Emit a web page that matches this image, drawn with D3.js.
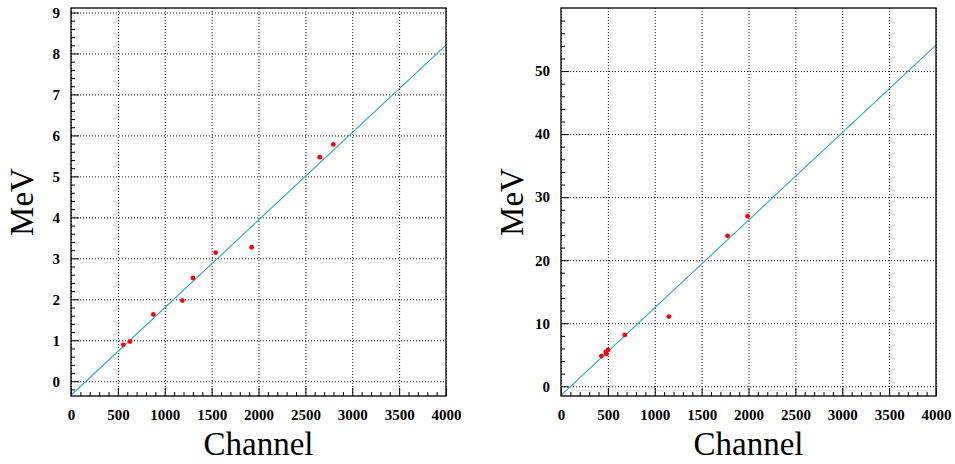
<!DOCTYPE html>
<html>
<head>
<meta charset="utf-8">
<script src="https://cdn.jsdelivr.net/npm/d3@7"></script>
<style>
  body { margin: 0; background: #fff; }
  svg { display: block; }
</style>
</head>
<body>
<svg width="955" height="464"></svg>
<script>
var svg = d3.select("svg");

// left panel data
var leftChannel = [558, 629, 878, 1188, 1301, 1543, 1927, 2653, 2798];
var leftMeV     = [0.89, 0.97, 1.63, 1.97, 2.52, 3.14, 3.27, 5.47, 5.78];
var leftFit     = [-0.342, 0.002137];   // intercept, slope
var leftYTicks  = [0, 1, 2, 3, 4, 5, 6, 7, 8, 9];

// right panel data
var rightChannel = [431, 477, 484, 502, 680, 1150, 1776, 1990];
var rightMeV     = [4.8, 5.45, 5.13, 5.77, 8.14, 11.05, 23.86, 26.98];
var rightFit     = [-1.44, 0.01389];
var rightYTicks  = [0, 10, 20, 30, 40, 50];

var xTicks = [0, 500, 1000, 1500, 2000, 2500, 3000, 3500, 4000];

var serif = "Liberation Serif, Times New Roman, serif";

function drawPanel(left, channels, mev, fit, yTicks, yMinorStep, yDomain) {
  var top = 8, w = 375, h = 388;

  var g = svg.append("g")
      .attr("transform", "translate(" + left + "," + top + ")");

  var x = d3.scaleLinear().domain([0, 4000]).range([0, w]);
  var y = d3.scaleLinear().domain(yDomain).range([h, 0]);

  var xMinor = d3.range(0, 41).map(function(i) { return i * 100; })
      .filter(function(v) { return v % 500 !== 0; });
  var yMinor = d3.range(-10, 400).map(function(i) { return +(i * yMinorStep).toFixed(4); })
      .filter(function(v) { return v >= yDomain[0] && v <= yDomain[1] && yTicks.indexOf(v) < 0 && Math.abs(v % (yMinorStep * 5)) > 1e-6; });

  // grid
  g.append("g")
      .attr("class", "grid")
      .attr("transform", "translate(0," + h + ")")
      .call(d3.axisBottom(x).tickValues(xTicks).tickSize(-h).tickFormat(""));
  g.append("g")
      .attr("class", "grid")
      .call(d3.axisLeft(y).tickValues(yTicks).tickSize(-w).tickFormat(""));
  g.selectAll(".grid line")
      .attr("stroke", "#111")
      .attr("stroke-dasharray", "1,2");

  // ticks
  var axes = [
    g.append("g").attr("transform", "translate(0," + h + ")")
      .call(d3.axisBottom(x).tickValues(xMinor).tickSize(-4).tickFormat("")),
    g.append("g").attr("transform", "translate(0," + h + ")")
      .call(d3.axisBottom(x).tickValues(xTicks).tickSize(-8).tickPadding(13).tickFormat(d3.format("d"))),
    g.append("g")
      .call(d3.axisLeft(y).tickValues(yMinor).tickSize(-4).tickFormat("")),
    g.append("g")
      .call(d3.axisLeft(y).tickValues(yTicks).tickSize(-8).tickPadding(11).tickFormat(d3.format("d")))
  ];
  axes.forEach(function(a) {
    a.attr("font-family", serif)
     .attr("font-weight", "bold")
     .attr("font-size", 15);
    a.selectAll("line").attr("stroke", "#000");
    a.selectAll("text").attr("fill", "#000");
  });
  g.selectAll(".domain").remove();

  // fit line
  var line = d3.line()
      .x(function(d) { return x(d); })
      .y(function(d) { return y(fit[0] + fit[1] * d); });
  g.append("path")
      .datum([0, 4000])
      .attr("d", line)
      .attr("fill", "none")
      .attr("stroke", "#26a6d1")
      .attr("stroke-width", 1.1);

  // points
  g.selectAll(".pt")
      .data(channels)
      .enter()
      .append("circle")
      .attr("class", "pt")
      .attr("cx", function(d) { return x(d); })
      .attr("cy", function(d, i) { return y(mev[i]); })
      .attr("r", 2.4)
      .attr("fill", "#ff0000");

  // frame
  g.append("rect")
      .attr("width", w)
      .attr("height", h)
      .attr("fill", "none")
      .attr("stroke", "#000")
      .attr("stroke-width", 1.3);

  // titles
  g.append("text")
      .attr("x", w / 2)
      .attr("y", 447)
      .attr("text-anchor", "middle")
      .attr("font-family", serif)
      .attr("font-size", 33)
      .text("Channel");
  g.append("text")
      .attr("transform", "translate(" + (-38) + "," + (h / 2) + ") rotate(-90)")
      .attr("text-anchor", "middle")
      .attr("font-family", serif)
      .attr("font-size", 33)
      .text("MeV");
}

drawPanel(71, leftChannel, leftMeV, leftFit, leftYTicks, 0.2, [-0.36, 9.11]);
drawPanel(561, rightChannel, rightMeV, rightFit, rightYTicks, 2, [-1.54, 60]);
</script>
</body>
</html>
